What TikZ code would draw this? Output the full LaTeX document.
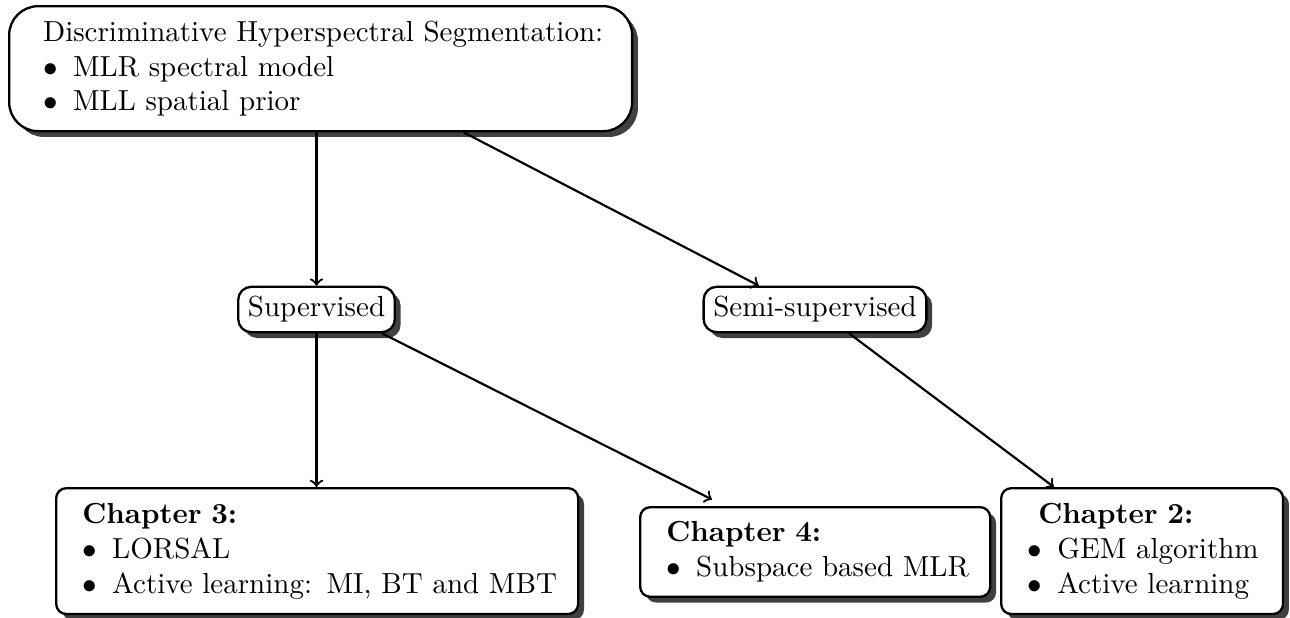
\documentclass[tikz,border=0pt]{standalone}
\usetikzlibrary{shadows,calc}
\newcommand{\oneline}[1]{\mbox{#1}}
\newcommand{\itm}{$\bullet$ \hspace{2pt}}
\begin{document}
\begin{tikzpicture}[x=0.3448pt,y=-0.3448pt,
  box/.style={draw=black, line width=0.8pt, fill=white, align=left,
    anchor=north west, inner ysep=5pt,
    drop shadow={shadow xshift=2pt, shadow yshift=-2pt, fill=black!75, opacity=1}},
  tag/.style={draw=black, line width=0.8pt, fill=white, rounded corners=4.5pt,
    inner sep=3.33pt,
    drop shadow={shadow xshift=2pt, shadow yshift=-2pt, fill=black!75, opacity=1}},
  link/.style={->, line width=0.75pt}]
\useasboundingbox (0,0) rectangle (1290,617);

% overview of the segmentation framework
\node[box, rounded corners=10pt, inner xsep=11.7pt, text width=191.4pt, minimum height=43.1pt]
  (top) at (8,5) {\oneline{Discriminative Hyperspectral Segmentation:}\\
  \oneline{\itm MLR spectral model}\\
  \oneline{\itm MLL spatial prior}};

% learning settings
\node[tag] (sup) at (316.5,309.5) {Supervised};
\node[tag] (semi) at (815,309.5) {Semi-supervised};

% chapters
\node[box, rounded corners=3.5pt, inner xsep=9pt, text width=162pt, minimum height=43.4pt]
  (ch3) at (55,487) {\oneline{\textbf{Chapter 3:}}\\
  \oneline{\itm LORSAL}\\
  \oneline{\itm Active learning: MI, BT and MBT}};
\node[box, rounded corners=3.5pt, inner xsep=9pt, text width=102.7pt, minimum height=30.7pt]
  (ch4) at (639,506) {\oneline{\textbf{Chapter 4:}}\\
  \oneline{\itm Subspace based MLR}};
\node[box, rounded corners=3.5pt, inner xsep=9pt, text width=79.2pt, minimum height=43.4pt]
  (ch2) at (1000,487) {\oneline{\hspace{3.8pt}\textbf{Chapter 2:}}\\
  \oneline{\itm GEM algorithm}\\
  \oneline{\itm Active learning}};

% connectors
\draw[link] (top.south -| sup.north) -- (sup.north);
\draw[link] (top.-24) -- (semi.157);
\draw[link] (sup.south) -- (sup.south |- ch3.north);
\draw[link, shorten >=5pt] (sup.-20) -- (ch4.153);
\draw[link] (semi.-35) -- (ch2.144);
\end{tikzpicture}
\end{document}
